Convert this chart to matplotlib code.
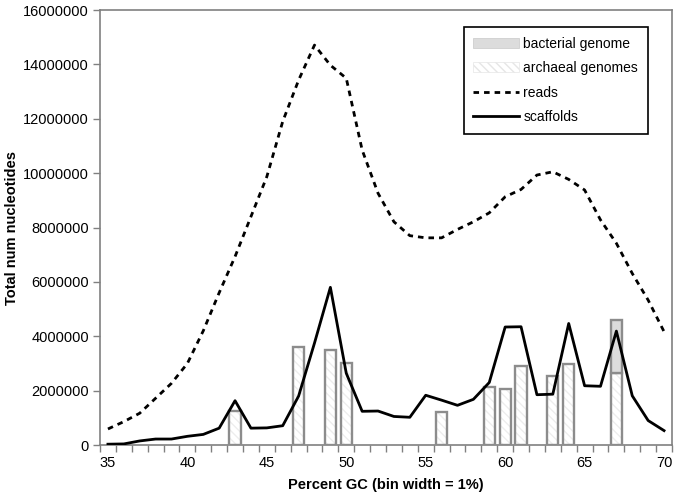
import numpy as np
import matplotlib
matplotlib.use("Agg")
import matplotlib.pyplot as plt
from matplotlib.patches import Patch
from matplotlib.lines import Line2D

plt.rcParams['font.family'] = ['Liberation Sans', 'DejaVu Sans']

# GC percent categories (1% bins)
gc = list(range(35, 71))

# read nucleotides per bin
reads = [0.59e6, 0.86e6, 1.17e6, 1.72e6, 2.27e6, 3.0e6, 4.2e6, 5.6e6, 6.93e6,
         8.4e6, 9.87e6, 11.9e6, 13.42e6, 14.71e6, 13.97e6, 13.49e6, 10.85e6,
         9.26e6, 8.21e6, 7.7e6, 7.62e6, 7.62e6, 7.93e6, 8.21e6, 8.54e6, 9.13e6,
         9.4e6, 9.93e6, 10.05e6, 9.77e6, 9.38e6, 8.28e6, 7.42e6, 6.31e6, 5.33e6,
         4.17e6]

# scaffold nucleotides per bin
scaffolds = [0.03e6, 0.04e6, 0.15e6, 0.22e6, 0.22e6, 0.32e6, 0.39e6, 0.62e6,
             1.63e6, 0.62e6, 0.63e6, 0.71e6, 1.8e6, 3.75e6, 5.8e6, 2.64e6,
             1.24e6, 1.25e6, 1.05e6, 1.02e6, 1.83e6, 1.65e6, 1.46e6, 1.68e6,
             2.3e6, 4.34e6, 4.35e6, 1.85e6, 1.87e6, 4.47e6, 2.18e6, 2.16e6,
             4.19e6, 1.81e6, 0.9e6, 0.53e6]

# reference genomes
arch_gc = [43, 47, 49, 50, 56, 59, 60, 61, 63, 64, 67]
arch_size = [1.24e6, 3.59e6, 3.48e6, 3.03e6, 1.23e6, 2.12e6, 2.05e6, 2.9e6,
             2.54e6, 2.99e6, 2.66e6]
bact_gc = [67]
bact_size = [1.94e6]   # stacked on top of the archaeal genome at 67

grey = '#8c8c8c'

fig = plt.figure(figsize=(6.77, 4.98), dpi=100)
ax = fig.add_axes([0.1477, 0.1064, 0.8449, 0.8735])

w = 0.7
# archaeal genomes: faint hatch then grey outline
ax.bar(arch_gc, arch_size, width=w, color='white', hatch='\\\\\\\\',
       edgecolor='#ededed', linewidth=0, zorder=2)
ax.bar(arch_gc, arch_size, width=w, fill=False, edgecolor=grey,
       linewidth=1.7, zorder=3)
# bacterial genome
ax.bar(bact_gc, bact_size, width=w, bottom=[arch_size[-1]], color='#dcdcdc',
       edgecolor=grey, linewidth=1.7, zorder=3)

ax.plot(gc, reads, color='black', linewidth=2.0, linestyle=(0, (2.0, 1.8)),
        zorder=4)
ax.plot(gc, scaffolds, color='black', linewidth=2.0, zorder=4)

ax.set_xlim(34.5, 70.5)
ax.set_ylim(0, 16000000)
ax.set_yticks(np.arange(0, 16000001, 2000000))
ax.set_yticklabels([str(v) for v in range(0, 16000001, 2000000)])
ax.set_xticks(range(35, 71, 5))
ax.set_xticks(np.arange(34.5, 70.6, 1), minor=True)
ax.tick_params(axis='x', which='major', length=0, pad=8, labelsize=10.5)
ax.tick_params(axis='x', which='minor', length=5, color='#808080', width=1)
ax.tick_params(axis='y', length=5, color='#808080', width=1, labelsize=10.5,
               pad=3)

for s in ax.spines.values():
    s.set_color('#808080')
    s.set_linewidth(1.2)

ax.set_xlabel('Percent GC (bin width = 1%)', fontsize=10.5, fontweight='bold',
              labelpad=6)
ax.set_ylabel('Total num nucleotides', fontsize=10.5, fontweight='bold',
              labelpad=3)

handles = [
    Patch(facecolor='#dcdcdc', edgecolor='#c8c8c8', linewidth=0.5),
    Patch(facecolor='white', edgecolor='#e6e6e6', hatch='\\\\\\\\', linewidth=0.5),
    Line2D([], [], color='black', linewidth=2.0, linestyle=(0, (2.0, 1.8))),
    Line2D([], [], color='black', linewidth=2.0),
]
labels = ['bacterial genome', 'archaeal genomes', 'reads', 'scaffolds']
leg = ax.legend(handles, labels, loc='upper right',
                bbox_to_anchor=(0.958, 0.961), borderaxespad=0,
                fancybox=False, framealpha=1, edgecolor='black',
                fontsize=10, handlelength=3.3, handletextpad=0.3,
                labelspacing=0.75, borderpad=0.7)
leg.get_frame().set_linewidth(1.2)

fig.savefig('out.png', dpi=100)
